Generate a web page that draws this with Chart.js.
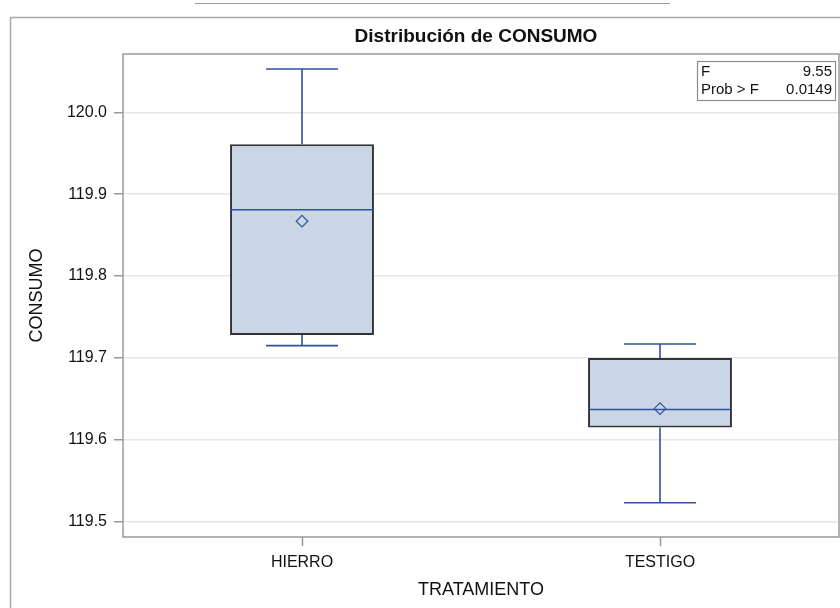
<!DOCTYPE html>
<html>
<head>
<meta charset="utf-8">
<script src="https://cdn.jsdelivr.net/npm/chart.js@4.4.1/dist/chart.umd.min.js"></script>
<style>
  html, body { margin: 0; padding: 0; background: #fff; }
  #wrap { width: 840px; height: 608px; }
</style>
</head>
<body>
<div id="wrap"><canvas id="myChart" width="840" height="608"></canvas></div>
<script>
// datos (box plot de CONSUMO por TRATAMIENTO)
const tratamientos = ['HIERRO', 'TESTIGO'];
const minimo  = [119.715, 119.523];
const q1      = [119.728, 119.615];
const mediana = [119.881, 119.637];
const q3      = [119.961, 119.700];
const maximo  = [120.053, 119.717];
const media   = [119.867, 119.638];
const statNombres = ['F', 'Prob > F'];
const statValores = ['9.55', '0.0149'];
const titulo = 'Distribución de CONSUMO';

const fuente = "'Liberation Sans', Arial, sans-serif";
const azul = '#2f52a6';
const gris = '#9a9a9a';

// marco, titulo, bigotes, caps y mediana con las escalas del chart
const boxExtras = {
    id: 'boxExtras',
    beforeDraw(chart) {
        const c = chart.ctx;
        const a = chart.chartArea;
        c.save();
        c.strokeStyle = '#a8a8a8';
        c.lineWidth = 1.5;
        c.beginPath();
        c.moveTo(10.5, 608);
        c.lineTo(10.5, 17.5);
        c.lineTo(840, 17.5);
        c.stroke();
        c.strokeStyle = '#9c9c9c';
        c.lineWidth = 1;
        c.beginPath();
        c.moveTo(195, 3.5);
        c.lineTo(670, 3.5);
        c.stroke();
        // titulo centrado sobre el area de datos
        c.fillStyle = '#111';
        c.font = 'bold 19px ' + fuente;
        c.textAlign = 'center';
        c.textBaseline = 'middle';
        c.fillText(titulo, (a.left + a.right) / 2 - 5, 37);
        c.restore();
    },
    afterDatasetDraw(chart, args) {
        if (args.index !== 0) return;
        const c = chart.ctx;
        const x = chart.scales.x, y = chart.scales.y;
        const meta = chart.getDatasetMeta(0);
        c.save();
        c.strokeStyle = azul;
        c.lineWidth = 1.6;
        tratamientos.forEach((t, i) => {
            const cx = x.getPixelForValue(i);
            const half = meta.data[i].width / 2;
            const cap = half / 2;
            c.beginPath();
            // bigote superior
            c.moveTo(cx, y.getPixelForValue(q3[i]));
            c.lineTo(cx, y.getPixelForValue(maximo[i]));
            c.moveTo(cx - cap, y.getPixelForValue(maximo[i]));
            c.lineTo(cx + cap, y.getPixelForValue(maximo[i]));
            // bigote inferior
            c.moveTo(cx, y.getPixelForValue(q1[i]));
            c.lineTo(cx, y.getPixelForValue(minimo[i]));
            c.moveTo(cx - cap, y.getPixelForValue(minimo[i]));
            c.lineTo(cx + cap, y.getPixelForValue(minimo[i]));
            // mediana
            c.moveTo(cx - half, y.getPixelForValue(mediana[i]));
            c.lineTo(cx + half, y.getPixelForValue(mediana[i]));
            c.stroke();
        });
        c.restore();
    },
    afterDraw(chart) {
        const c = chart.ctx;
        const a = chart.chartArea;
        c.save();
        // marco del area de datos
        c.strokeStyle = gris;
        c.lineWidth = 1.5;
        c.strokeRect(a.left, a.top, a.right - a.left, a.bottom - a.top);
        // cuadro de estadisticos
        const bx = 697, by = 61, bw = 138, bh = 39;
        c.fillStyle = '#fff';
        c.fillRect(bx, by, bw, bh);
        c.strokeStyle = '#8c8c8c';
        c.lineWidth = 1.2;
        c.strokeRect(bx + 0.5, by + 0.5, bw, bh);
        c.fillStyle = '#111';
        c.font = '15px ' + fuente;
        c.textBaseline = 'middle';
        statNombres.forEach((n, i) => {
            const ty = by + 11 + i * 18;
            c.textAlign = 'left';
            c.fillText(n, bx + 4, ty);
            c.textAlign = 'right';
            c.fillText(statValores[i], bx + bw - 3, ty);
        });
        c.restore();
    }
};

const ctx = document.getElementById('myChart').getContext('2d');
let chart = new Chart(ctx, {
    data: {
        labels: tratamientos,
        datasets: [{
            type: 'bar',
            data: tratamientos.map((t, i) => [q1[i], q3[i]]),
            backgroundColor: '#cad5e5',
            borderColor: '#333333',
            borderWidth: 2,
            borderSkipped: false,
            barPercentage: 0.402,
            categoryPercentage: 1,
            order: 1
        }, {
            type: 'line',
            data: media,
            showLine: false,
            pointStyle: 'rectRot',
            pointRadius: 5.8,
            pointBorderWidth: 1.2,
            pointBorderColor: azul,
            pointBackgroundColor: 'rgba(0,0,0,0)',
            order: 0
        }]
    },
    options: {
        responsive: false,
        animation: false,
        layout: { autoPadding: false, padding: { top: 54, left: 0, right: 1, bottom: 0 } },
        plugins: {
            legend: { display: false },
            tooltip: { enabled: false },
            title: { display: false }
        },
        scales: {
            x: {
                type: 'category',
                offset: true,
                grid: { display: true, drawOnChartArea: false, drawTicks: true, tickLength: 9, tickColor: gris, tickWidth: 1.5, offset: false },
                border: { display: false },
                ticks: { color: '#111', font: { family: fuente, size: 16 }, padding: 7 },
                title: { display: true, text: 'TRATAMIENTO', color: '#111', font: { family: fuente, size: 18 }, padding: { top: 0, bottom: 7 } },
                afterFit(axis) { axis.height = 71; }
            },
            y: {
                min: 119.4812,
                max: 120.0713,
                grid: { color: '#e6e6e6', lineWidth: 1.5, tickColor: gris, tickLength: 9, tickWidth: 1.5 },
                border: { display: false },
                ticks: {
                    stepSize: 0.1,
                    includeBounds: false,
                    color: '#111',
                    padding: 7,
                    font: { family: fuente, size: 16 },
                    callback: v => v.toFixed(1)
                },
                title: { display: true, text: 'CONSUMO', color: '#111', font: { family: fuente, size: 18 }, padding: { top: 26, bottom: 0 } },
                afterFit(axis) { axis.width = 123; }
            }
        }
    },
    plugins: [boxExtras]
});
</script>
</body>
</html>
